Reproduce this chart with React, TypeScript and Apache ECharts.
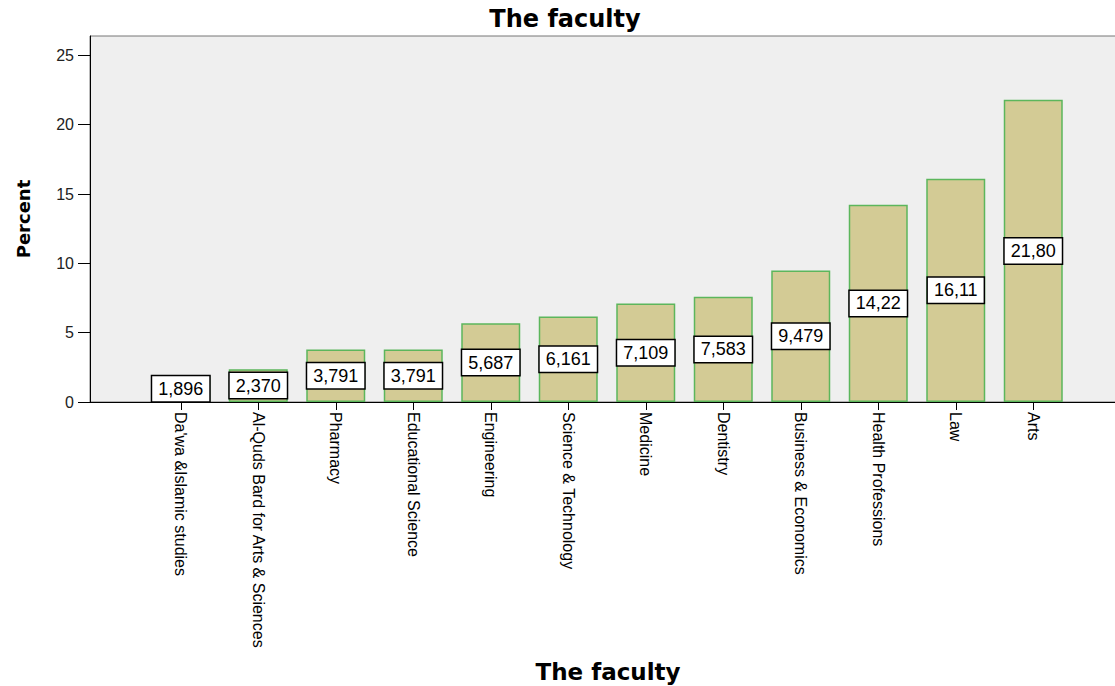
import React, { useEffect, useRef } from "react";
import * as echarts from "echarts";

const categories = [
  "Da'wa &Islamic studies",
  "Al-Quds Bard for Arts & Sciences",
  "Pharmacy",
  "Educational Science",
  "Engineering",
  "Science & Technology",
  "Medicine",
  "Dentistry",
  "Business & Economics",
  "Health Professions",
  "Law",
  "Arts",
];
const percents = [1.896, 2.37, 3.791, 3.791, 5.687, 6.161, 7.109, 7.583, 9.479, 14.22, 16.11, 21.8];
const yTicks = [0, 5, 10, 15, 20, 25];
const Y_MAX = 26.4;

const FONT = "'Liberation Sans', Arial, sans-serif";
const BOLD_FONT = "'DejaVu Sans', sans-serif";

export default function App() {
  const ref = useRef<HTMLDivElement>(null);
  useEffect(() => {
    if (!ref.current) return;
    const chart = echarts.init(ref.current, null, { renderer: "svg" });
    chart.setOption({
      animation: false,
      textStyle: { fontFamily: FONT },
      title: {
        text: "The faculty",
        left: 560,
        top: 2,
        textAlign: "center",
        textStyle: { fontSize: 24, fontWeight: "bold", color: "#000", fontFamily: BOLD_FONT },
      },
      grid: [
        {
          left: 90,
          top: 36,
          width: 1036,
          height: 366,
          show: true,
          backgroundColor: "#efefef",
          borderColor: "#777",
          borderWidth: 1,
          outerBoundsMode: "none",
          containLabel: false,
        },
        {
          left: 142,
          top: 36,
          width: 930,
          height: 366,
          outerBoundsMode: "none",
          containLabel: false,
        },
      ],
      xAxis: [
        {
          gridIndex: 0,
          type: "value",
          min: 0,
          max: 1,
          axisLine: { show: true, lineStyle: { color: "#000", width: 1 } },
          axisTick: { show: false },
          axisLabel: { show: false },
          splitLine: { show: false },
          name: "The faculty",
          nameLocation: "middle",
          nameGap: 258,
          nameTextStyle: { fontSize: 23, fontWeight: "bold", color: "#000", fontFamily: BOLD_FONT },
        },
        {
          gridIndex: 1,
          type: "category",
          data: categories,
          axisLine: { show: false },
          axisTick: { show: true, alignWithLabel: true, length: 8, lineStyle: { color: "#000" } },
          axisLabel: {
            rotate: -90,
            margin: 10,
            fontSize: 16,
            color: "#000",
            interval: 0,
            fontFamily: FONT,
          },
        },
      ],
      yAxis: [
        {
          gridIndex: 0,
          type: "value",
          min: 0,
          max: Y_MAX,
          axisLine: { show: true, lineStyle: { color: "#000", width: 1 } },
          axisTick: { show: true, length: 12, customValues: yTicks, lineStyle: { color: "#000" } },
          axisLabel: { customValues: yTicks, fontSize: 16, color: "#222", margin: 16, fontFamily: FONT },
          splitLine: { show: false },
          name: "Percent",
          nameLocation: "middle",
          nameGap: 58,
          nameTextStyle: { fontSize: 18, fontWeight: "bold", color: "#000", fontFamily: BOLD_FONT },
        },
        {
          gridIndex: 1,
          type: "value",
          min: 0,
          max: Y_MAX,
          show: false,
        },
      ],
      series: [
        {
          type: "bar",
          xAxisIndex: 1,
          yAxisIndex: 1,
          data: percents,
          barWidth: 59,
          itemStyle: { color: "#d3cb95", borderColor: "#5cb65c", borderWidth: 1.5 },
          label: {
            show: true,
            position: "inside",
            formatter: (p: any) => Number(p.value).toPrecision(4).replace(".", ","),
            fontSize: 18,
            color: "#000",
            backgroundColor: "#fff",
            borderColor: "#000",
            borderWidth: 1.5,
            padding: [4, 6, 3, 6],
            fontFamily: FONT,
          },
        },
      ],
    });
    return () => chart.dispose();
  }, []);
  return <div ref={ref} style={{ position: "absolute", left: 0, top: 0, width: 1115, height: 686 }} />;
}
